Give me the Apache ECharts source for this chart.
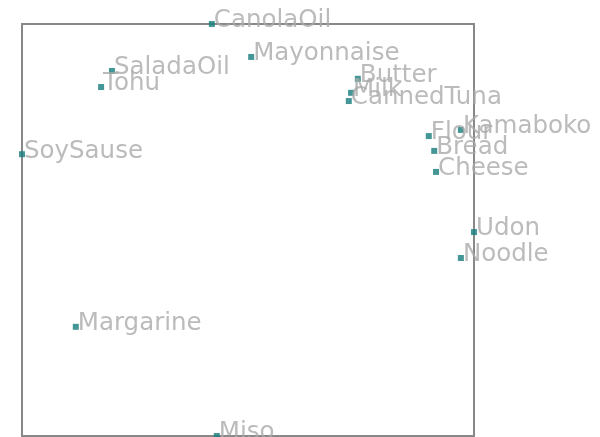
<!DOCTYPE html>
<html>
<head>
<meta charset="utf-8">
<style>html,body{margin:0;padding:0;background:#fff;}#c{width:600px;height:437px;}</style>
<script src="https://cdn.jsdelivr.net/npm/echarts@6/dist/echarts.min.js"></script>
</head>
<body>
<div id="c"></div>
<script>
const names = ["CanolaOil","Mayonnaise","SaladaOil","Tohu","Butter","Milk","CannedTuna","SoySause","Flour","Kamaboko","Bread","Cheese","Udon","Noodle","Margarine","Miso"];
const xValues = [42.0,50.7,19.9,17.5,74.3,72.8,72.3,0,90.0,97.1,91.2,91.6,100,97.1,11.9,43.1];
const yValues = [100,92.0,88.6,84.7,86.7,83.3,81.3,68.4,72.8,74.3,69.2,64.1,49.5,43.2,26.5,0];

const chart = echarts.init(document.getElementById('c'), null, {renderer:'canvas'});
chart.setOption({
  animation:false,
  grid:{left:22, top:24, width:452, height:412, show:true, borderColor:'#888', borderWidth:2, backgroundColor:'transparent'},
  xAxis:{type:'value', min:'dataMin', max:'dataMax', show:false, splitLine:{show:false}},
  yAxis:{type:'value', min:'dataMin', max:'dataMax', show:false, splitLine:{show:false}},
  series:[{
    type:'scatter',
    symbol:'rect',
    symbolSize:6,
    clip:false,
    itemStyle:{color:'#167d7d'},
    data: names.map((n,i)=>({name:n, value:[xValues[i], yValues[i]]})),
    label:{show:true, formatter:'{b}', position:'right', distance:0, offset:[-1,-3],
      color:'#aaa', fontFamily:'DejaVu Sans', fontSize:24.5, fontWeight:'normal'},
    z:2
  }]
});
</script>
</body>
</html>
